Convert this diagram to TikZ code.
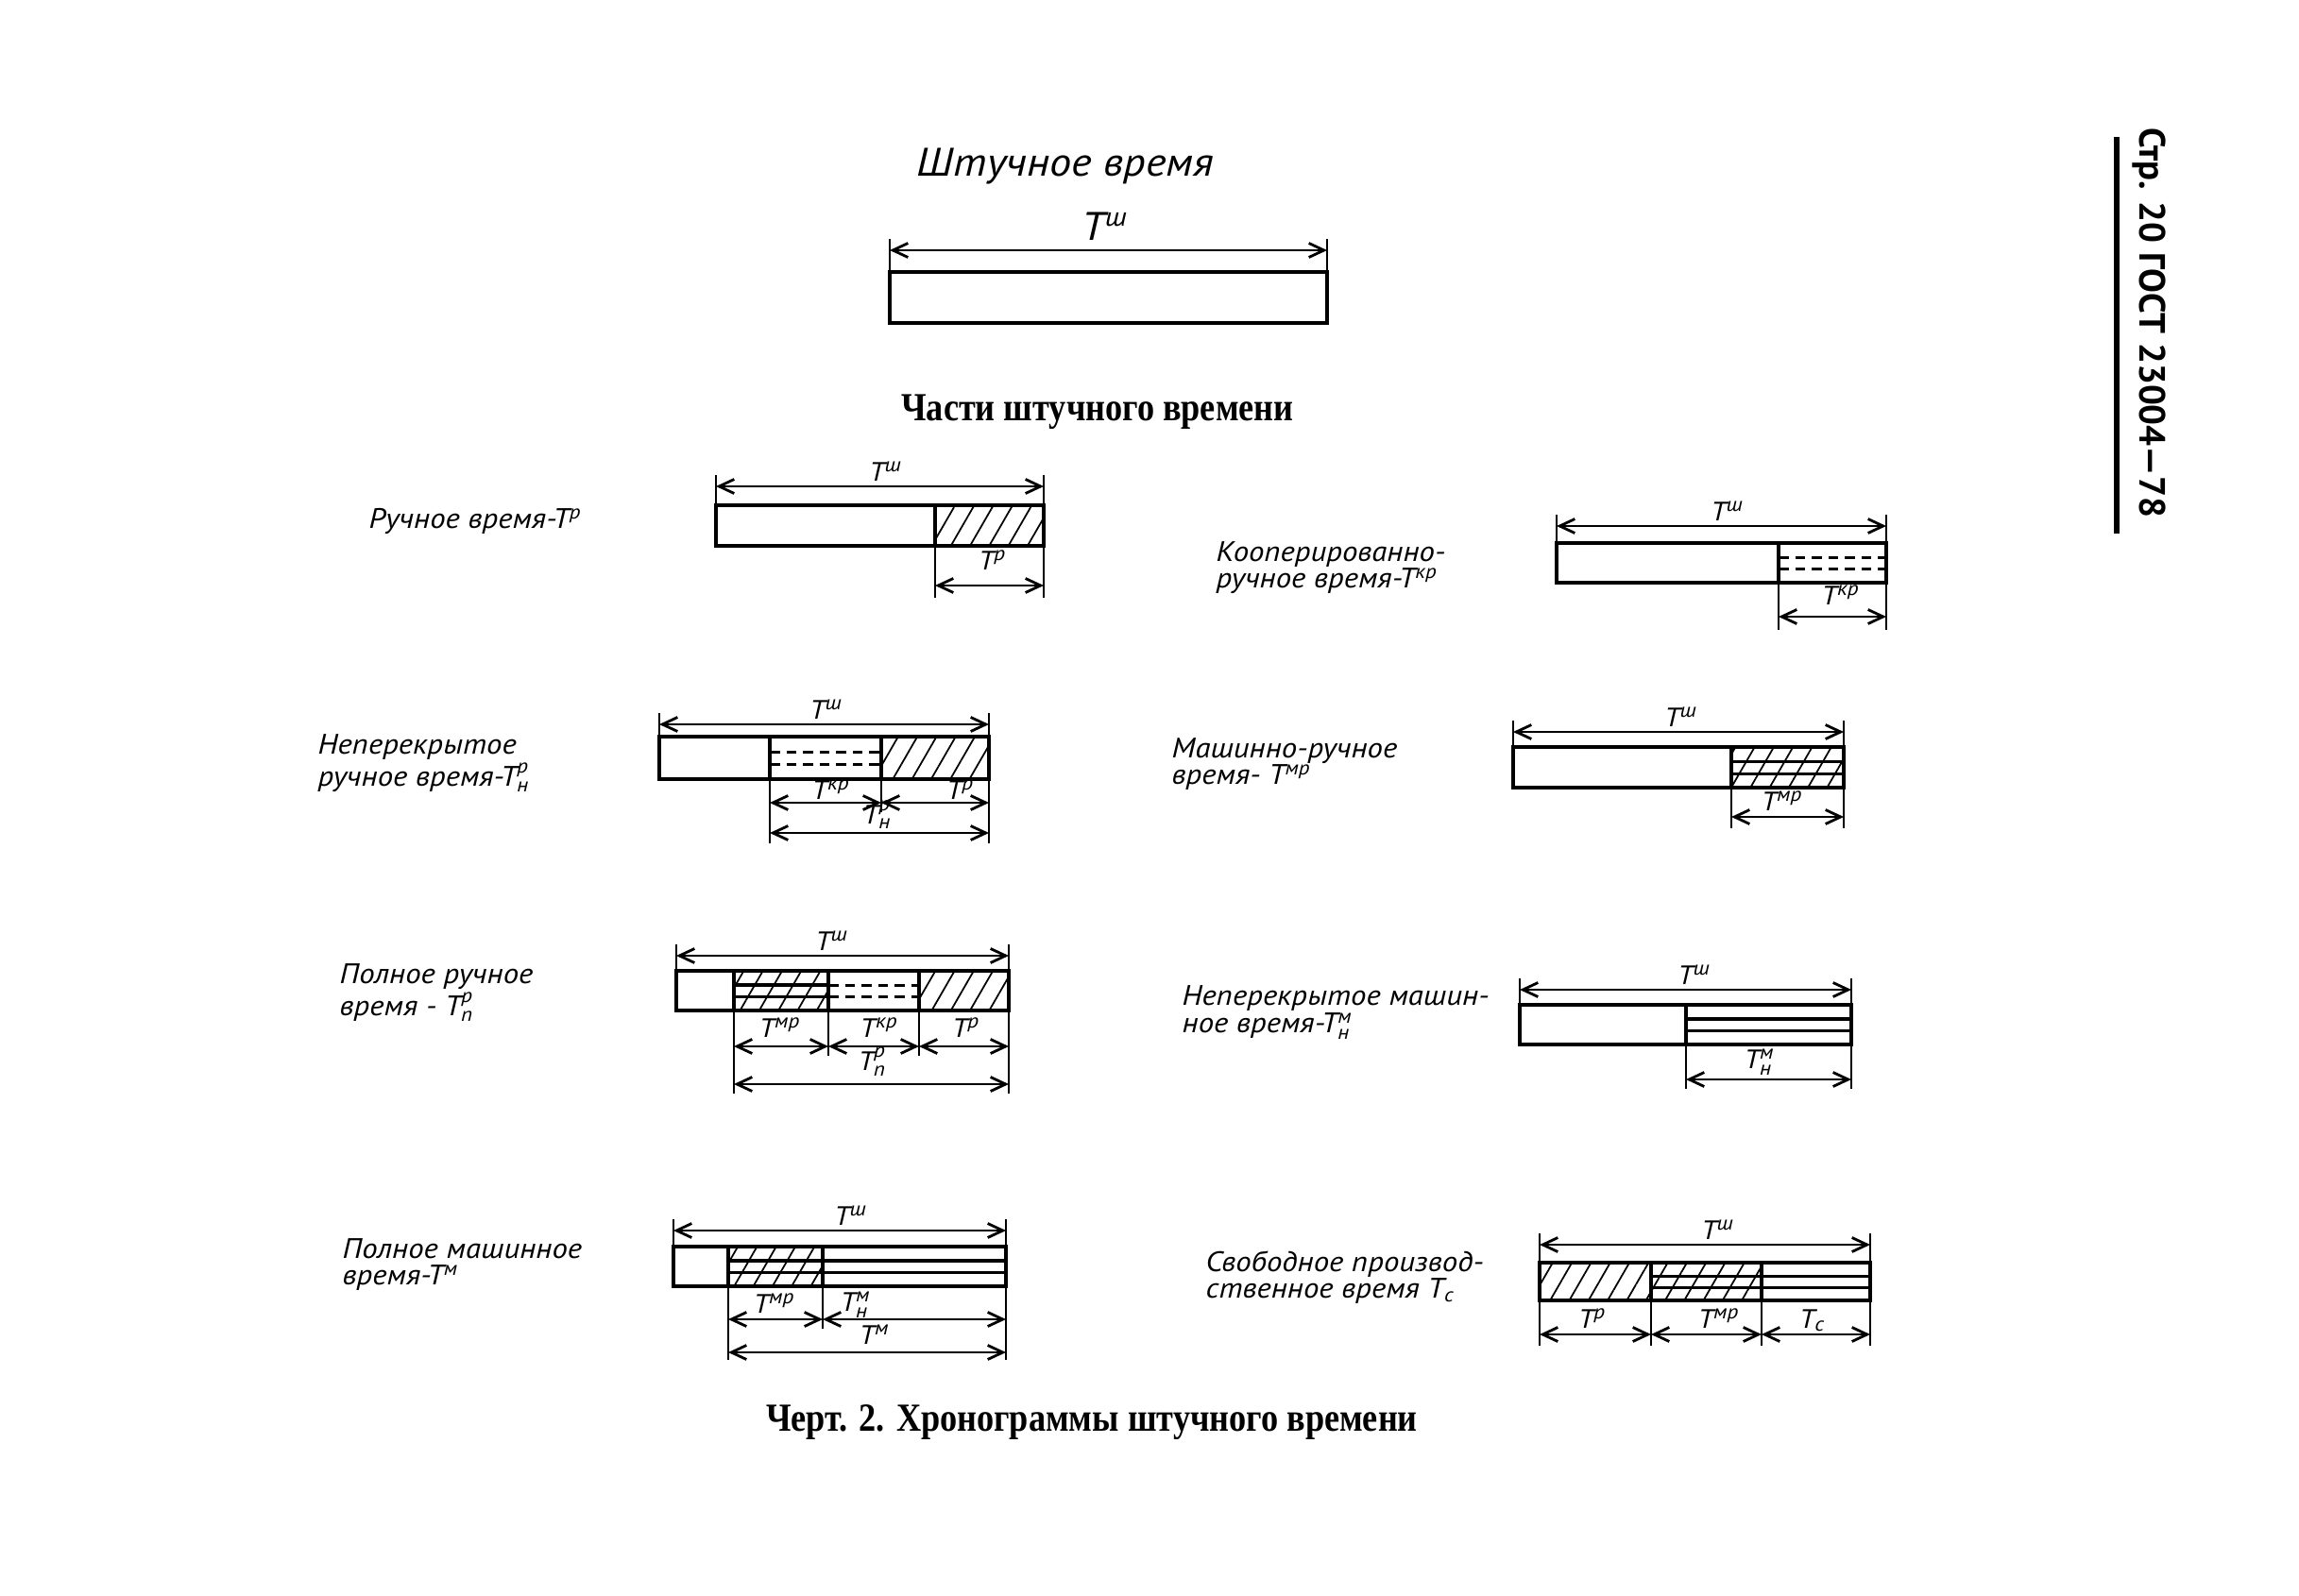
\documentclass[tikz,border=0pt]{standalone}
\usepackage{fontspec}
\usepackage{amsmath}
\usepackage{tikz}
\usetikzlibrary{arrows.meta, patterns.meta, calc}
\setmainfont{Liberation Serif}
\newfontfamily\capfont{Liberation Serif}[FakeStretch=0.86]
\newfontfamily\handfont{PT Sans}[FakeStretch=1.1]
\newfontfamily\gostfont{PT Sans}
\newcommand{\tsup}[1]{Т\textsuperscript{#1}}
\newcommand{\tsub}[2]{Т$^{\text{#1}}_{\text{#2}}$}

\begin{document}
\begin{tikzpicture}[
    seg/.style={draw, line width=1.1pt, inner sep=0pt, outer sep=0pt, minimum height=0.43cm},
    manual/.style={seg, pattern={Lines[angle=60, distance=5pt, line width=.5pt]}},
    twolines/.style={path picture={
        \foreach \f in {0.36,0.66}
          \draw[#1] ($(path picture bounding box.north west)!\f!(path picture bounding box.south west)$)
                 -- ($(path picture bounding box.north east)!\f!(path picture bounding box.south east)$);}},
    coop/.style={seg, twolines={dash pattern=on 3pt off 2pt, line width=.8pt}},
    machine/.style={seg, twolines={line width=1pt}},
    machmanual/.style={manual, twolines={line width=1pt}},
    dim/.style={{Straight Barb[length=1.6mm, width=1.5mm]}-{Straight Barb[length=1.6mm, width=1.5mm]}, line width=.8pt},
    ext/.style={line width=.6pt},
    lbl/.style={font=\handfont\itshape\fontsize{8.5}{8}\selectfont, align=left, anchor=west, inner sep=0pt},
    tl/.style={font=\handfont\itshape\fontsize{8}{9}\selectfont, inner sep=0pt, anchor=base},
    head/.style={font=\capfont\bfseries\fontsize{12}{14}\selectfont}
]
\useasboundingbox (0,0) rectangle (24.34,-16.89);

% Page header
\node[font=\gostfont\bfseries\fontsize{11}{13}\selectfont, rotate=-90] (page) at (22.75,-3.42) {Стр. 20 ГОСТ 23004—78};
\draw[line width=1.6pt] (22.41,-1.45) -- (22.41,-5.65);

% Piece time
\node[font=\handfont\itshape\fontsize{12}{14}\selectfont] (title) at (11.28,-1.76) {Штучное время};
\node[seg, minimum width=4.63cm, minimum height=.54cm] (sh) at (11.735,-3.15) {};
\node[tl, font=\handfont\itshape\fontsize{12}{14}\selectfont] (tsh) at (11.70,-2.55) {\tsup{ш}};
\draw[ext] ([yshift=3.5mm]sh.north west) -- (sh.north west);
\draw[ext] ([yshift=3.5mm]sh.north east) -- (sh.north east);
\draw[dim] ([yshift=2.3mm]sh.north west) -- ([yshift=2.3mm]sh.north east);

\node[head] (parts) at (11.62,-4.36) {Части штучного времени};

% Manual time
\node[lbl] (lab1) at (3.90,-5.52) {Ручное время-\tsup{р}};
\node[seg, minimum width=2.32cm] (r1a) at (8.74,-5.565) {};
\node[manual, minimum width=1.15cm] (r1b) at (10.475,-5.565) {};
\node[tl] (t1sh) at (9.38,-5.09) {\tsup{ш}};
\node[tl] (t1r) at (10.51,-6.03) {\tsup{р}};
\draw[ext] ([yshift=3.2mm]r1a.north west) -- (r1a.north west);
\draw[ext] ([yshift=3.2mm]r1b.north east) -- ([yshift=-5.5mm]r1b.south east);
\draw[ext] (r1b.south west) -- ([yshift=-5.5mm]r1b.south west);
\draw[dim] ([yshift=2mm]r1a.north west) -- ([yshift=2mm]r1b.north east);
\draw[dim] ([yshift=-4.2mm]r1b.south west) -- ([yshift=-4.2mm]r1b.south east);

% Cooperated manual time
\node[lbl] (lab2) at (12.87,-6.01) {Кооперированно-\\ручное время-\tsup{кр}};
\node[seg, minimum width=2.35cm, minimum height=.42cm] (r2a) at (17.655,-5.96) {};
\node[coop, minimum width=1.14cm, minimum height=.42cm] (r2b) at (19.40,-5.96) {};
\node[tl] (t2sh) at (18.29,-5.51) {\tsup{ш}};
\node[tl] (t2kr) at (19.49,-6.40) {\tsup{кр}};
\draw[ext] ([yshift=3mm]r2a.north west) -- (r2a.north west);
\draw[ext] ([yshift=3mm]r2b.north east) -- ([yshift=-5mm]r2b.south east);
\draw[ext] (r2b.south west) -- ([yshift=-5mm]r2b.south west);
\draw[dim] ([yshift=1.8mm]r2a.north west) -- ([yshift=1.8mm]r2b.north east);
\draw[dim] ([yshift=-3.6mm]r2b.south west) -- ([yshift=-3.6mm]r2b.south east);

% Non-overlapped manual time
\node[lbl] (lab3) at (3.36,-8.08) {Неперекрытое\\ручное время-\tsub{р}{н}};
\node[seg, minimum width=1.17cm, minimum height=.45cm] (r3a) at (7.565,-8.025) {};
\node[coop, minimum width=1.18cm, minimum height=.45cm] (r3b) at (8.74,-8.025) {};
\node[manual, minimum width=1.14cm, minimum height=.45cm] (r3c) at (9.90,-8.025) {};
\node[tl] (t3sh) at (8.75,-7.61) {\tsup{ш}};
\node[tl] (t3kr) at (8.80,-8.46) {\tsup{кр}};
\node[tl] (t3r) at (10.17,-8.46) {\tsup{р}};
\node[tl] (t3rn) at (9.29,-8.72) {\tsub{р}{н}};
\draw[ext] ([yshift=2.5mm]r3a.north west) -- (r3a.north west);
\draw[ext] ([yshift=2.5mm]r3c.north east) -- ([yshift=-6.8mm]r3c.south east);
\draw[ext] (r3b.south west) -- ([yshift=-6.8mm]r3b.south west);
\draw[ext] (r3c.south west) -- ([yshift=-3.5mm]r3c.south west);
\draw[dim] ([yshift=1.3mm]r3a.north west) -- ([yshift=1.3mm]r3c.north east);
\draw[dim] ([yshift=-2.5mm]r3b.south west) -- ([yshift=-2.5mm]r3b.south east);
\draw[dim] ([yshift=-2.5mm]r3c.south west) -- ([yshift=-2.5mm]r3c.south east);
\draw[dim] ([yshift=-5.7mm]r3b.south west) -- ([yshift=-5.7mm]r3c.south east);

% Machine-manual time
\node[lbl] (lab4) at (12.40,-8.09) {Машинно-ручное\\время- \tsup{мр}};
\node[seg, minimum width=2.31cm] (r4a) at (17.175,-8.125) {};
\node[machmanual, minimum width=1.19cm] (r4b) at (18.925,-8.125) {};
\node[tl] (t4sh) at (17.80,-7.69) {\tsup{ш}};
\node[tl] (t4mr) at (18.87,-8.58) {\tsup{мр}};
\draw[ext] ([yshift=2.8mm]r4a.north west) -- (r4a.north west);
\draw[ext] ([yshift=2.8mm]r4b.north east) -- ([yshift=-4.3mm]r4b.south east);
\draw[ext] (r4b.south west) -- ([yshift=-4.3mm]r4b.south west);
\draw[dim] ([yshift=1.6mm]r4a.north west) -- ([yshift=1.6mm]r4b.north east);
\draw[dim] ([yshift=-3.1mm]r4b.south west) -- ([yshift=-3.1mm]r4b.south east);

% Full manual time
\node[lbl] (lab5) at (3.59,-10.51) {Полное ручное\\время - \tsub{р}{п}};
\node[seg, minimum width=.61cm, minimum height=.42cm] (r5a) at (7.465,-10.49) {};
\node[machmanual, minimum width=1.00cm, minimum height=.42cm] (r5b) at (8.27,-10.49) {};
\node[coop, minimum width=.96cm, minimum height=.42cm] (r5c) at (9.25,-10.49) {};
\node[manual, minimum width=.95cm, minimum height=.42cm] (r5d) at (10.205,-10.49) {};
\node[tl] (t5sh) at (8.81,-10.06) {\tsup{ш}};
\node[tl] (t5mr) at (8.26,-10.98) {\tsup{мр}};
\node[tl] (t5kr) at (9.31,-10.98) {\tsup{кр}};
\node[tl] (t5r) at (10.23,-10.98) {\tsup{р}};
\node[tl] (t5rp) at (9.24,-11.33) {\tsub{р}{п}};
\draw[ext] ([yshift=2.8mm]r5a.north west) -- (r5a.north west);
\draw[ext] ([yshift=2.8mm]r5d.north east) -- ([yshift=-8.8mm]r5d.south east);
\draw[ext] (r5b.south west) -- ([yshift=-8.8mm]r5b.south west);
\draw[ext] (r5c.south west) -- ([yshift=-4.8mm]r5c.south west);
\draw[ext] (r5d.south west) -- ([yshift=-4.8mm]r5d.south west);
\draw[dim] ([yshift=1.6mm]r5a.north west) -- ([yshift=1.6mm]r5d.north east);
\draw[dim] ([yshift=-3.8mm]r5b.south west) -- ([yshift=-3.8mm]r5b.south east);
\draw[dim] ([yshift=-3.8mm]r5c.south west) -- ([yshift=-3.8mm]r5c.south east);
\draw[dim] ([yshift=-3.8mm]r5d.south west) -- ([yshift=-3.8mm]r5d.south east);
\draw[dim] ([yshift=-7.8mm]r5b.south west) -- ([yshift=-7.8mm]r5d.south east);

% Non-overlapped machine time
\node[lbl] (lab6) at (12.51,-10.72) {Неперекрытое машин-\\ное время-\tsub{м}{н}};
\node[seg, minimum width=1.76cm, minimum height=.42cm] (r6a) at (16.97,-10.85) {};
\node[machine, minimum width=1.75cm, minimum height=.42cm] (r6b) at (18.725,-10.85) {};
\node[tl] (t6sh) at (17.94,-10.42) {\tsup{ш}};
\node[tl] (t6mn) at (18.63,-11.31) {\tsub{м}{н}};
\draw[ext] ([yshift=2.8mm]r6a.north west) -- (r6a.north west);
\draw[ext] ([yshift=2.8mm]r6b.north east) -- ([yshift=-4.7mm]r6b.south east);
\draw[ext] (r6b.south west) -- ([yshift=-4.7mm]r6b.south west);
\draw[dim] ([yshift=1.6mm]r6a.north west) -- ([yshift=1.6mm]r6b.north east);
\draw[dim] ([yshift=-3.7mm]r6b.south west) -- ([yshift=-3.7mm]r6b.south east);

% Full machine time
\node[lbl] (lab7) at (3.62,-13.39) {Полное машинное\\время-\tsup{м}};
\node[seg, minimum width=.58cm, minimum height=.42cm] (r7a) at (7.42,-13.41) {};
\node[machmanual, minimum width=1.00cm, minimum height=.42cm] (r7b) at (8.21,-13.41) {};
\node[machine, minimum width=1.94cm, minimum height=.42cm] (r7c) at (9.68,-13.41) {};
\node[tl] (t7sh) at (9.01,-12.97) {\tsup{ш}};
\node[tl] (t7mr) at (8.20,-13.90) {\tsup{мр}};
\node[tl] (t7mn) at (9.06,-13.88) {\tsub{м}{н}};
\node[tl] (t7m) at (9.26,-14.23) {\tsup{м}};
\draw[ext] ([yshift=2.9mm]r7a.north west) -- (r7a.north west);
\draw[ext] ([yshift=2.9mm]r7c.north east) -- ([yshift=-7.8mm]r7c.south east);
\draw[ext] (r7b.south west) -- ([yshift=-7.8mm]r7b.south west);
\draw[ext] (r7c.south west) -- ([yshift=-4.5mm]r7c.south west);
\draw[dim] ([yshift=1.7mm]r7a.north west) -- ([yshift=1.7mm]r7c.north east);
\draw[dim] ([yshift=-3.5mm]r7b.south west) -- ([yshift=-3.5mm]r7b.south east);
\draw[dim] ([yshift=-3.5mm]r7c.south west) -- ([yshift=-3.5mm]r7c.south east);
\draw[dim] ([yshift=-7mm]r7b.south west) -- ([yshift=-7mm]r7c.south east);

% Free productive time
\node[lbl] (lab8) at (12.76,-13.53) {Свободное производ-\\ственное время Т$_{\text{с}}$};
\node[manual, minimum width=1.18cm, minimum height=.40cm] (r8a) at (16.89,-13.57) {};
\node[machmanual, minimum width=1.17cm, minimum height=.40cm] (r8b) at (18.065,-13.57) {};
\node[machine, minimum width=1.15cm, minimum height=.40cm] (r8c) at (19.225,-13.57) {};
\node[tl] (t8sh) at (18.19,-13.12) {\tsup{ш}};
\node[tl] (t8r) at (16.86,-14.06) {\tsup{р}};
\node[tl] (t8mr) at (18.20,-14.06) {\tsup{мр}};
\node[tl] (t8c) at (19.19,-14.06) {Т$_{\text{с}}$};
\draw[ext] ([yshift=3.1mm]r8a.north west) -- ([yshift=-4.8mm]r8a.south west);
\draw[ext] ([yshift=3.1mm]r8c.north east) -- ([yshift=-4.8mm]r8c.south east);
\draw[ext] (r8b.south west) -- ([yshift=-4.8mm]r8b.south west);
\draw[ext] (r8c.south west) -- ([yshift=-4.8mm]r8c.south west);
\draw[dim] ([yshift=1.9mm]r8a.north west) -- ([yshift=1.9mm]r8c.north east);
\draw[dim] ([yshift=-3.6mm]r8a.south west) -- ([yshift=-3.6mm]r8a.south east);
\draw[dim] ([yshift=-3.6mm]r8b.south west) -- ([yshift=-3.6mm]r8b.south east);
\draw[dim] ([yshift=-3.6mm]r8c.south west) -- ([yshift=-3.6mm]r8c.south east);

% Caption
\node[head] (caption) at (11.56,-15.06) {Черт. 2. Хронограммы штучного времени};
\end{tikzpicture}
\end{document}
